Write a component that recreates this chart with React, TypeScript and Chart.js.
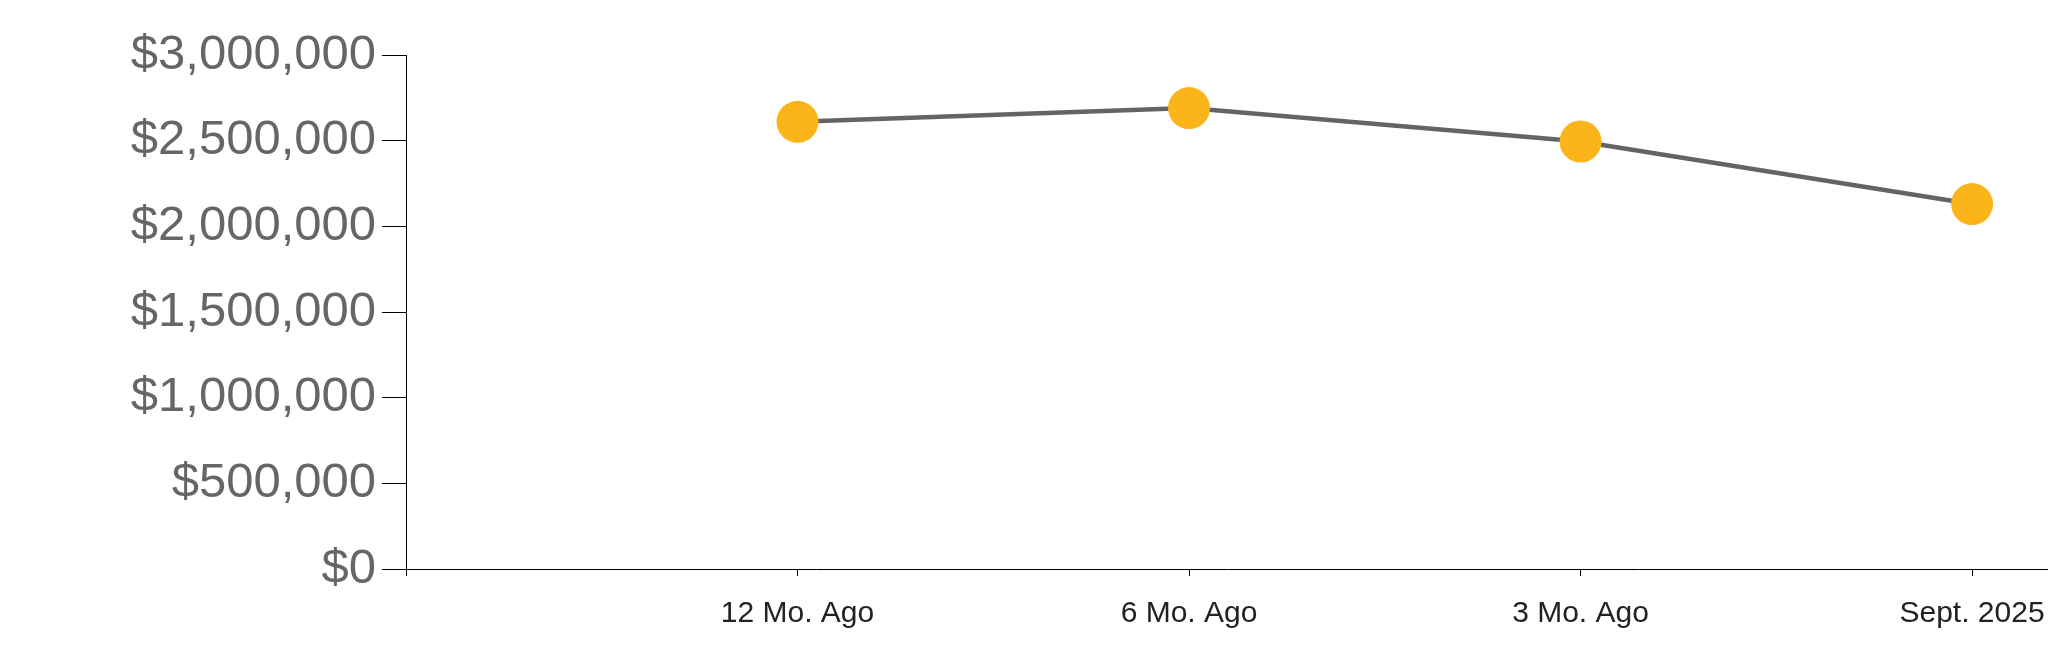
import React, { useEffect, useRef } from "react";
import { Chart, registerables } from "chart.js";

Chart.register(...registerables);

const categories = ["12 Mo. Ago", "6 Mo. Ago", "3 Mo. Ago", "Sept. 2025"];
const values = [2610000, 2690000, 2495000, 2130000];
const yTicks = [0, 500000, 1000000, 1500000, 2000000, 2500000, 3000000];

export default function App() {
  const ref = useRef<HTMLCanvasElement | null>(null);

  useEffect(() => {
    document.body.style.margin = "0";
    const canvas = ref.current;
    if (!canvas) return;
    const tickLabels = ["", ...categories];
    const chart = new Chart(canvas, {
      type: "line",
      data: {
        datasets: [
          {
            data: values.map((v, i) => ({ x: i + 1, y: v })),
            borderColor: "#646464",
            borderWidth: 4.5,
            tension: 0,
            pointRadius: 21,
            pointHoverRadius: 21,
            pointBackgroundColor: "#FBB51B",
            pointBorderWidth: 0,
            pointBorderColor: "#FBB51B",
            clip: false as any,
          },
        ],
      },
      options: {
        animation: false,
        responsive: false,
        maintainAspectRatio: false,
        layout: { autoPadding: false, padding: { top: 55, right: 0, bottom: 0, left: 0 } },
        plugins: { legend: { display: false }, tooltip: { enabled: false } },
        scales: {
          x: {
            type: "linear",
            min: 0,
            max: 4.194,
            afterBuildTicks: (s: any) => {
              s.ticks = tickLabels.map((_, i) => ({ value: i }));
            },
            afterFit: (s: any) => {
              s.height = 94;
              s.paddingRight = 0;
              s.paddingLeft = 0;
            },
            grid: {
              drawOnChartArea: false,
              drawTicks: true,
              tickLength: 7,
              color: "#000000",
            },
            border: { display: true, color: "#000000", width: 1 },
            ticks: {
              autoSkip: false,
              maxRotation: 0,
              padding: 20,
              color: "#222222",
              font: { family: "'Liberation Sans', Arial, sans-serif", size: 30 },
              callback: (v: any) => tickLabels[Math.round(Number(v))] ?? "",
            },
          },
          y: {
            type: "linear",
            min: 0,
            max: 3000000,
            afterBuildTicks: (s: any) => {
              s.ticks = yTicks.map((v) => ({ value: v }));
            },
            afterFit: (s: any) => {
              s.width = 406;
            },
            grid: {
              drawOnChartArea: false,
              drawTicks: true,
              tickLength: 24,
              color: "#000000",
            },
            border: { display: true, color: "#000000", width: 1 },
            ticks: {
              padding: 6,
              color: "#666666",
              font: { family: "'Liberation Sans', Arial, sans-serif", size: 49 },
              callback: (v: any) => "$" + Number(v).toLocaleString("en-US"),
            },
          },
        },
      },
    });
    return () => chart.destroy();
  }, []);

  return (
    <div style={{ position: "absolute", left: 0, top: 0, width: 2048, height: 663 }}>
      <canvas ref={ref} width={2048} height={663} style={{ width: 2048, height: 663, display: "block" }} />
    </div>
  );
}
